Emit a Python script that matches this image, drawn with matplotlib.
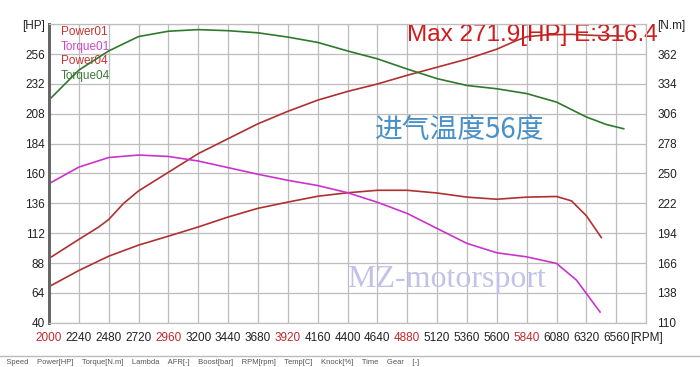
import matplotlib
matplotlib.use('Agg')
import matplotlib.pyplot as plt

plt.rcParams['font.family'] = ['Liberation Sans', 'DejaVu Sans']

# RPM ticks and curve data
rpm_ticks = list(range(2000, 6800, 240))
hp_ticks = list(range(40, 280, 24))
nm_ticks = list(range(110, 390, 28))

rpm_p01 = [2000, 2240, 2480, 2720, 2960, 3200, 3440, 3680, 3920, 4160, 4400, 4640,
           4880, 5120, 5360, 5600, 5840, 6080, 6200, 6320, 6440]
power01 = [69, 82, 93.5, 102.4, 109.6, 117, 125, 132, 137, 141.7, 144.5, 146.5,
           146.5, 144.3, 141, 139.3, 141, 141.5, 138, 126, 108.5]

rpm_t01 = [2000, 2240, 2480, 2720, 2960, 3200, 3440, 3680, 3920, 4160, 4400, 4640,
           4880, 5120, 5360, 5600, 5840, 6080, 6240, 6430]
torque01 = [240.5, 256, 265, 267.3, 266, 261.7, 255.5, 249.3, 243.6, 238.7, 232, 223,
            212.5, 198.4, 184.4, 175.6, 171.8, 165.6, 150, 120]

rpm_p04 = [2000, 2240, 2400, 2480, 2600, 2720, 2960, 3200, 3440, 3680, 3920, 4160, 4400,
           4640, 4880, 5120, 5360, 5600, 5760, 5840, 6000, 6200, 6400, 6620]
power04 = [91.7, 107, 117, 123, 136, 146, 161, 176, 188, 200, 210, 219, 226,
           232, 239, 245.5, 252, 260, 267, 270, 271.5, 271.9, 271, 270.5]

rpm_t04 = [2000, 2240, 2480, 2720, 2960, 3200, 3440, 3680, 3920, 4160, 4400, 4640,
           4880, 5120, 5360, 5600, 5840, 6080, 6320, 6480, 6620]
torque04 = [319, 347, 365, 378.5, 383.5, 385, 384, 382, 378, 373, 365, 357.6,
            348, 339, 332.6, 329.5, 325, 317, 303, 296, 292]

legend_names = ['Power01', 'Torque01', 'Power04', 'Torque04']
legend_colors = ['#c83232', '#cc44cc', '#c83232', '#3a7d3a']
red_ticks = [2000, 2960, 3920, 4880, 5840]

fig = plt.figure(figsize=(7, 3.67), dpi=100)
ax = fig.add_axes([0.07, 0.1207, 0.853, 0.8131])
ax2 = ax.twinx()

ax.plot(rpm_p01, power01, color='#b03030', lw=1.2)
ax.plot(rpm_p04, power04, color='#b03030', lw=1.2)
ax2.plot(rpm_t01, torque01, color='#cc33cc', lw=1.2)
ax2.plot(rpm_t04, torque04, color='#2d7a2d', lw=1.2)

ax.set_xlim(2000, 6800)
ax.set_ylim(40, 280)
ax2.set_ylim(110, 390)

ax.set_xticks(rpm_ticks + [6800])
ax.set_xticklabels([str(r) for r in rpm_ticks] + ['[RPM]'], fontsize=8.5, color='#222222')
for lbl, r in zip(ax.get_xticklabels(), rpm_ticks):
    if r in red_ticks:
        lbl.set_color('#c0282d')
ax.set_yticks(hp_ticks + [280])
ax.set_yticklabels([str(v) for v in hp_ticks] + ['[HP]'], fontsize=8.5, color='#222222')
ax2.set_yticks(nm_ticks + [390])
ax2.set_yticklabels([str(v) for v in nm_ticks] + ['[N.m]'], fontsize=8.5, color='#222222')

ax.tick_params(axis='x', length=0, pad=7)
ax.tick_params(axis='y', length=0, pad=3)
ax2.tick_params(axis='y', length=0, pad=8)

ax.grid(True, color='#bdbdbd', lw=0.9)
ax.set_axisbelow(True)
for a in (ax, ax2):
    a.spines['top'].set_color('#bdbdbd')
    a.spines['right'].set_color('#bdbdbd')
    a.spines['bottom'].set_color('#bdbdbd')
    a.spines['left'].set_color('#666666')
    a.spines['left'].set_linewidth(2)

for i, (name, col) in enumerate(zip(legend_names, legend_colors)):
    ax.text(0.02, 0.973 - i * 0.0485, name, transform=ax.transAxes, fontsize=8.5,
            color=col, va='center', ha='left')

ax.text(0.6, 1.0, 'Max 271.9[HP] E:316.4', transform=ax.transAxes, fontsize=17.5,
        color='#d11a1a', va='top', ha='left')
ax.text(0.688, 0.645, '进气温度56度', transform=ax.transAxes, fontsize=20,
        color='#4a90c8', va='center', ha='center', family=['Noto Sans CJK SC', 'DejaVu Sans'])
ax.text(0.499, 0.145, 'MZ-motorsport', transform=ax.transAxes, fontsize=23,
        color='#c2c2e8', va='center', ha='left', family=['Liberation Serif', 'DejaVu Serif'])

# footer of the dyno sheet (cut off in the original)
fig.add_artist(plt.Line2D([0, 1], [0.03, 0.03], transform=fig.transFigure, color='#bbbbbb', lw=1))
fig.text(0.0, 0.012, '   Speed    Power[HP]    Torque[N.m]    Lambda    AFR[-]    Boost[bar]'
         '    RPM[rpm]    Temp[C]    Knock[%]    Time    Gear    [-]',
         fontsize=5.5, color='#555555', va='center', ha='left')

fig.savefig('out.png', dpi=100)
